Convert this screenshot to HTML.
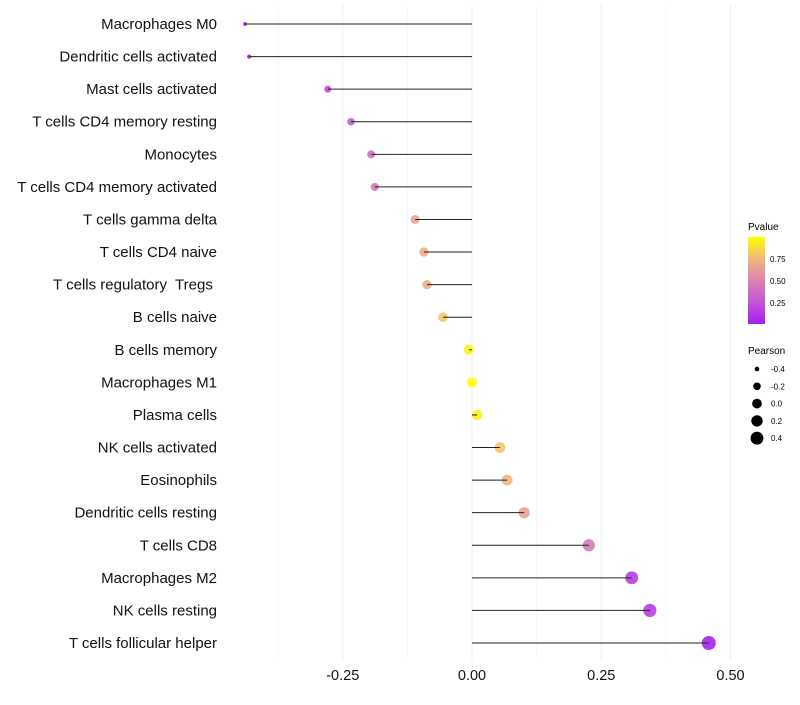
<!DOCTYPE html>
<html><head><meta charset="utf-8"><style>body{margin:0;background:#fff}svg{font-family:"Liberation Sans",sans-serif}</style></head>
<body>
<svg id="chart" width="800" height="700" xmlns="http://www.w3.org/2000/svg">
<defs><linearGradient id="pg" x1="0" y1="1" x2="0" y2="0">
<stop offset="0" stop-color="#A020F0"/><stop offset="0.25" stop-color="#C354D6"/><stop offset="0.5" stop-color="#DA84B0"/><stop offset="0.75" stop-color="#EFB87E"/><stop offset="1" stop-color="#FFFF00"/></linearGradient></defs>
<g id="grid"></g><g id="marks"></g><g id="labels"></g>
<g>
<text x="748" y="230" font-size="10">Pvalue</text>
<rect x="748" y="237" width="17" height="87" fill="url(#pg)"/>
<text x="770" y="262" font-size="8">0.75</text>
<text x="770" y="284" font-size="8">0.50</text>
<text x="770" y="306" font-size="8">0.25</text>
</g>
<g id="sizeleg">
<text x="748" y="354" font-size="10">Pearson</text>
</g>
</svg>
<script>
const categories=["Macrophages M0","Dendritic cells activated","Mast cells activated","T cells CD4 memory resting","Monocytes","T cells CD4 memory activated","T cells gamma delta","T cells CD4 naive","T cells regulatory  Tregs ","B cells naive","B cells memory","Macrophages M1","Plasma cells","NK cells activated","Eosinophils","Dendritic cells resting","T cells CD8","Macrophages M2","NK cells resting","T cells follicular helper"];
const pearson=[-0.439,-0.431,-0.279,-0.234,-0.195,-0.188,-0.110,-0.093,-0.087,-0.056,-0.006,0.000,0.010,0.054,0.068,0.101,0.226,0.309,0.344,0.458];
const pvalue=[0.01,0.01,0.2,0.3,0.4,0.45,0.65,0.7,0.7,0.8,0.97,1.0,0.95,0.8,0.75,0.65,0.45,0.15,0.15,0.02];
const xTicks=[-0.25,0,0.25,0.5];
const xTickLabels=["-0.25","0.00","0.25","0.50"];
const sizeLegend=[-0.4,-0.2,0,0.2,0.4];
const sizeLegendLabels=["-0.4","-0.2","0.0","0.2","0.4"];
const NS="http://www.w3.org/2000/svg";
const x=v=>472+v*517;
const y=i=>24+i*(643-24)/19;
const r=v=>Math.sqrt(Math.max(2,26+50*v));
const stops=[[0,[160,32,240]],[0.25,[195,84,214]],[0.5,[218,132,176]],[0.75,[239,184,126]],[1,[255,255,0]]];
function col(p){for(let k=0;k<stops.length-1;k++){const a=stops[k],b=stops[k+1];if(p<=b[0]){const t=(p-a[0])/(b[0]-a[0]);return "rgb("+a[1].map((c,j)=>Math.round(c+(b[1][j]-c)*t)).join(",")+")";}}return "rgb(255,255,0)";}
function mk(tag,at,parent){const e=document.createElementNS(NS,tag);for(const k in at)e.setAttribute(k,at[k]);parent.appendChild(e);return e;}
const grid=document.getElementById('grid'),marks=document.getElementById('marks'),labels=document.getElementById('labels');
[-0.375,-0.125,0.125,0.375].forEach(v=>{const l=mk('line',{x1:x(v),x2:x(v),y1:5,y2:660,stroke:'#f4f4f4','stroke-width':0.6},grid);

});
xTicks.forEach((v,i)=>{const l=mk('line',{x1:x(v),x2:x(v),y1:5,y2:660,stroke:'#eeeeee','stroke-width':1},grid);


const t=mk('text',{x:x(v),y:680,'font-size':14.5,'text-anchor':'middle',fill:'#111'},labels);t.textContent=xTickLabels[i];

});
categories.forEach((c,i)=>{
const t=mk('text',{x:217,y:y(i)+5,'font-size':15,'text-anchor':'end',fill:'#111',style:'white-space:pre'},labels);t.textContent=c;


const p=mk('circle',{cx:x(pearson[i]),cy:y(i),r:r(pearson[i]),fill:col(pvalue[i]),'fill-opacity':0.9},marks);


const l=mk('line',{x1:x(pearson[i]),x2:x(0),y1:y(i),y2:y(i),stroke:'#222','stroke-width':1},marks);

});
const sl=document.getElementById('sizeleg');
sizeLegend.forEach((v,i)=>{const cy=369+i*17.3;
const c=mk('circle',{cx:757,cy:cy,r:r(v)*0.95,fill:'#000'},sl);


const t=mk('text',{x:771,y:cy+3,'font-size':8},sl);t.textContent=sizeLegendLabels[i];

});
</script>
</body></html>
